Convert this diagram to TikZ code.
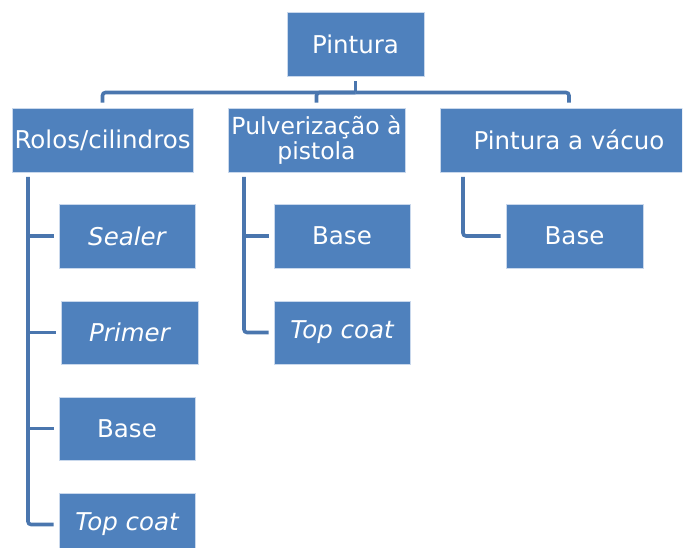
\documentclass[tikz,border=0pt]{standalone}
\usepackage{fontspec}
\setmainfont{DejaVu Sans}
\begin{document}
\begin{tikzpicture}[x=1pt,y=-1pt,
  box/.style={rectangle, fill=boxblue, draw=boxedge, line width=0.6pt,
    inner sep=0pt, text=white, align=center,
    font=\fontsize{24.5}{26}\selectfont},
  conn/.style={draw=linkblue, line width=3.6pt, rounded corners=3pt}]
\definecolor{boxblue}{HTML}{4F81BD}
\definecolor{boxedge}{HTML}{C9D8EC}
\definecolor{linkblue}{HTML}{4A76AE}
\useasboundingbox (0,0) rectangle (686,548);
\clip (0,0) rectangle (682,548);

% top level
\node[box, minimum width=137, minimum height=64] (P) at (355.5,44) {Pintura};

% second level
\node[box, minimum width=181, minimum height=64] (R) at (102.5,140) {Rolos/cilindros};
\node[box, minimum width=177, minimum height=64, font=\fontsize{23.5}{25.5}\selectfont] (PP) at (316.5,140) {Pulverização à\\pistola};
\node[box, minimum width=258, minimum height=64] (V) at (569,140) {Pintura a vácuo};

% rolos / cilindros
\node[box, minimum width=136, minimum height=64] (R1) at (127,236) {\itshape Sealer};
\node[box, minimum width=137, minimum height=63] (R2) at (129.5,332.5) {\itshape Primer};
\node[box, minimum width=136, minimum height=63] (R3) at (127,428.5) {Base};
\node[box, minimum width=136, minimum height=63] (R4) at (127,524.5) {\itshape Top coat};

% pulverização à pistola
\node[box, minimum width=136, minimum height=64] (PP1) at (342,236) {Base};
\node[box, minimum width=136, minimum height=63] (PP2) at (342,332.5) {\itshape Top coat};

% pintura a vácuo
\node[box, minimum width=137, minimum height=64] (V1) at (574.5,236) {Base};

% connectors from the top box
\coordinate (bus) at (355.5,92.5);
\draw[conn] ([yshift=-5pt]P.south) -- (bus);
\draw[conn] (bus) -| ([yshift=5pt]R.north);
\draw[conn] (bus) -| ([yshift=5pt]PP.north);
\draw[conn] (bus) -| ([yshift=5pt]V.north);

% rolos / cilindros branches
\coordinate (Rtop) at (28,177);
\draw[conn] (Rtop) |- ([xshift=-5pt]R4.west);
\draw[conn] (Rtop |- R1.west) -- ([xshift=-5pt]R1.west);
\draw[conn] (Rtop |- R2.west) -- ([xshift=-5pt]R2.west);
\draw[conn] (Rtop |- R3.west) -- ([xshift=-5pt]R3.west);

% pulverização branches
\coordinate (PPtop) at (244,177);
\draw[conn] (PPtop) |- ([xshift=-5pt]PP2.west);
\draw[conn] (PPtop |- PP1.west) -- ([xshift=-5pt]PP1.west);

% vácuo branch
\coordinate (Vtop) at (463,177);
\draw[conn] (Vtop) |- ([xshift=-5pt]V1.west);
\end{tikzpicture}
\end{document}
